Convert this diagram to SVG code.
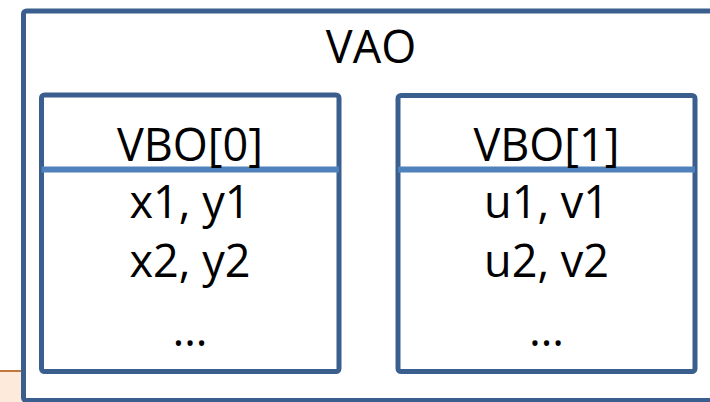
<svg xmlns="http://www.w3.org/2000/svg" width="710" height="402" viewBox="0 0 710 402">
  <style>
    .box { fill: #ffffff; stroke: #3a5f8e; stroke-width: 5; }
    .divider { stroke: #4f81bd; stroke-width: 6; }
    .label { font-family: "Open Sans", "Liberation Sans", sans-serif; font-size: 45px; fill: #000000; text-anchor: middle; }
  </style>

  <!-- background strip peeking out at the lower left -->
  <rect x="0" y="371" width="40" height="31" fill="#fdeada"/>
  <line x1="0" y1="371" x2="40" y2="371" stroke="#c0783f" stroke-width="2"/>

  <g id="vao">
    <rect class="box" x="23.5" y="11" width="695" height="389.5" rx="3"/>
    <text class="label" x="371" y="63">VAO</text>
  </g>

  <g id="vbo0">
    <rect class="box" x="41.5" y="95" width="297.5" height="276.5" rx="3"/>
    <line class="divider" x1="41.5" y1="169.5" x2="339" y2="169.5"/>
    <text class="label" x="190" y="161">VBO[0]</text>
    <text class="label" x="190" y="218">x1, y1</text>
    <text class="label" x="190" y="277">x2, y2</text>
    <text class="label" x="190" y="346">…</text>
  </g>

  <g id="vbo1">
    <rect class="box" x="398" y="95.5" width="297" height="276" rx="3"/>
    <line class="divider" x1="398" y1="169.5" x2="695" y2="169.5"/>
    <text class="label" x="546.5" y="161">VBO[1]</text>
    <text class="label" x="546.5" y="218">u1, v1</text>
    <text class="label" x="546.5" y="277">u2, v2</text>
    <text class="label" x="546.5" y="346">…</text>
  </g>

  <g id="connectors"/>
</svg>
